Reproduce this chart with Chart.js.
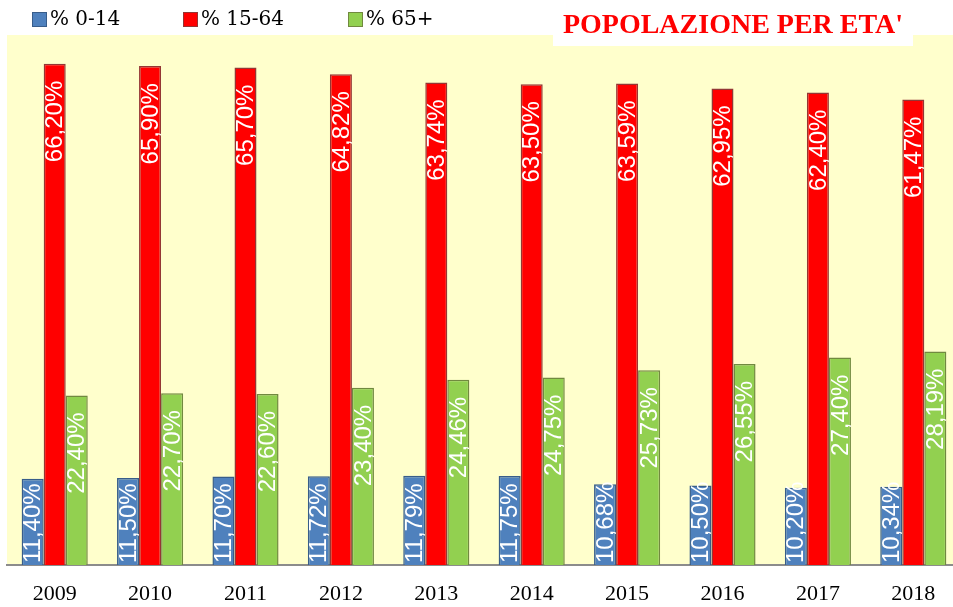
<!DOCTYPE html>
<html>
<head>
<meta charset="utf-8">
<script src="https://cdn.jsdelivr.net/npm/chart.js@4/dist/chart.umd.min.js"></script>
<style>
  html, body { margin: 0; padding: 0; overflow: hidden; background: #fff; }
  #wrap { width: 961px; height: 607px; }
</style>
</head>
<body>
<div id="wrap"><canvas id="popChart"></canvas></div>
<script>
let years = ['2009', '2010', '2011', '2012', '2013', '2014', '2015', '2016', '2017', '2018'];
let age0_14 = [11.40, 11.50, 11.70, 11.72, 11.79, 11.75, 10.68, 10.50, 10.20, 10.34];
let age15_64 = [66.20, 65.90, 65.70, 64.82, 63.74, 63.50, 63.59, 62.95, 62.40, 61.47];
let age65 = [22.40, 22.70, 22.60, 23.40, 24.46, 24.75, 25.73, 26.55, 27.40, 28.19];
let seriesNames = ['% 0-14', '% 15-64', '% 65+'];
let chartTitle = "POPOLAZIONE PER ETA'";

let fills = ['#4F81BD', '#FF0000', '#92D050'];
let borders = ['#385D8A', '#943634', '#71893F'];

// yellow plot background
const plotBg = {
    id: 'plotBg',
    beforeDraw(chart) {
        let a = chart.chartArea;
        let ctx = chart.ctx;
        ctx.save();
        ctx.fillStyle = '#FFFFCC';
        ctx.fillRect(a.left, a.top, a.right - a.left, a.bottom - a.top);
        ctx.restore();
    }
};

// rotated value labels inside the bars
const barLabels = {
    id: 'barLabels',
    afterDatasetsDraw(chart) {
        let ctx = chart.ctx;
        let base = chart.scales.y.getPixelForValue(0);
        ctx.save();
        ctx.font = '24px "Liberation Sans"';
        ctx.fillStyle = '#FFFFFF';
        ctx.textAlign = 'right';
        ctx.textBaseline = 'middle';
        chart.data.datasets.forEach(function (ds, i) {
            let meta = chart.getDatasetMeta(i);
            meta.data.forEach(function (bar, j) {
                let txt = ds.data[j].toFixed(2).replace('.', ',') + '%';
                let len = ctx.measureText(txt).width;
                let top = bar.y + 17;
                if (top + len > base - 2) {
                    top = base - 2 - len;
                }
                ctx.save();
                ctx.translate(bar.x + 1, top);
                ctx.rotate(-Math.PI / 2);
                ctx.fillText(txt, 0, 0);
                ctx.restore();
            });
        });
        ctx.restore();
    }
};

// legend and title box at the top
const topTexts = {
    id: 'topTexts',
    afterDraw(chart) {
        let ctx = chart.ctx;
        ctx.save();
        let xs = [32, 183, 348];
        ctx.font = '20px "DejaVu Serif"';
        ctx.textBaseline = 'middle';
        ctx.textAlign = 'left';
        for (let i = 0; i < 3; i++) {
            ctx.fillStyle = fills[i];
            ctx.fillRect(xs[i], 12, 15, 15);
            ctx.strokeStyle = borders[i];
            ctx.lineWidth = 1;
            ctx.strokeRect(xs[i] + 0.5, 12.5, 14, 14);
            ctx.fillStyle = '#000';
            ctx.fillText(seriesNames[i], xs[i] + 18, 20);
        }
        ctx.fillStyle = '#FFFFFF';
        ctx.fillRect(553, 0, 360, 46);
        ctx.fillStyle = '#FF0000';
        ctx.font = 'bold 28px "Liberation Serif"';
        ctx.textAlign = 'center';
        ctx.fillText(chartTitle, 733, 26);
        ctx.restore();
    }
};

let datasets = [age0_14, age15_64, age65].map(function (vals, i) {
    return {
        label: seriesNames[i],
        data: vals,
        backgroundColor: fills[i],
        borderColor: borders[i],
        borderWidth: 1.5,
        borderSkipped: 'bottom'
    };
});

new Chart(document.getElementById('popChart'), {
    type: 'bar',
    data: { labels: years, datasets: datasets },
    options: {
        responsive: true,
        maintainAspectRatio: false,
        animation: false,
        layout: { padding: { left: 7, right: 0, top: 35, bottom: 0 } },
        plugins: {
            legend: { display: false },
            title: { display: false },
            tooltip: { enabled: false }
        },
        datasets: {
            bar: { categoryPercentage: 0.693, barPercentage: 1.0 }
        },
        scales: {
            x: {
                grid: { display: false, drawTicks: false },
                border: { display: true, color: '#8C8C8C', width: 2 },
                ticks: {
                    color: '#000',
                    padding: 16,
                    font: { family: '"Liberation Serif"', size: 22 }
                },
                afterFit(scale) {
                    scale.height = 42;
                }
            },
            y: {
                display: false,
                min: 0,
                max: 70
            }
        }
    },
    plugins: [plotBg, barLabels, topTexts]
});
</script>
</body>
</html>
